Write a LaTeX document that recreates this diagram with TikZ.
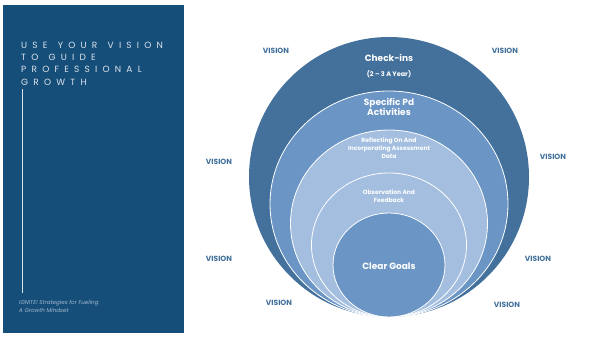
\documentclass[tikz,border=0pt]{standalone}
\usepackage{fontspec}
\setmainfont{Poppins}
\newfontfamily\spacedfont[LetterSpace=58, WordSpace=1.35]{Poppins}
\usetikzlibrary{positioning}

\definecolor{panelblue}{HTML}{164E7A}
\definecolor{ringdark}{HTML}{43719C}
\definecolor{ringmid}{HTML}{6A95C5}
\definecolor{ringlight}{HTML}{A3BEDF}
\definecolor{visionblue}{HTML}{41709B}
\definecolor{titlegray}{HTML}{DCE3EB}
\definecolor{notegray}{HTML}{A2B8CC}

\tikzset{
  ring/.style={draw=white, line width=0.8pt},
  ringtext/.style={
    text=white,
    align=center,
    inner sep=0pt,
    font=\bfseries\fontsize{9}{10}\selectfont},
  smalltext/.style={
    ringtext,
    font=\bfseries\fontsize{6}{8}\selectfont},
  visiontag/.style={
    text=visionblue,
    inner sep=0pt,
    font=\bfseries\fontsize{7.5}{8}\selectfont},
}

\begin{document}
\begin{tikzpicture}[x=1pt, y=-1pt]
  \useasboundingbox (0,0) rectangle (591,337);
  % left title panel
  \fill[panelblue] (3,5) rectangle (184,333);
  \node[anchor=north west, inner sep=0pt, align=left, text=titlegray,
        font=\spacedfont\fontsize{9}{12.2}\selectfont] (title) at (21,42)
    {USE YOUR VISION\\TO GUIDE\\PROFESSIONAL\\GROWTH};
  \draw[titlegray, line width=0.6pt] (22,89) -- (22,293);
  \node[anchor=north west, inner sep=0pt, align=left, text=notegray,
        font=\itshape\fontsize{5.6}{8}\selectfont] (ignite) at (19,300)
    {IGNITE! Strategies for Fueling\\A Growth Mindset};

  % nested rings, all touching at the bottom
  \fill[ringdark] (389,177) ellipse [x radius=140pt, y radius=140pt];
  \filldraw[ring, fill=ringmid] (389,204) ellipse [x radius=119pt, y radius=113pt];
  \filldraw[ring, fill=ringlight] (389,223.5) ellipse [x radius=98.5pt, y radius=93.5pt];
  \filldraw[ring, fill=ringlight] (389,245) ellipse [x radius=77.5pt, y radius=72pt];
  \filldraw[ring, fill=ringmid] (389,265) ellipse [x radius=56pt, y radius=52pt];

  \node[ringtext] (checkins) at (389,58) {Check-ins};
  \node[smalltext, font=\bfseries\fontsize{6.5}{8}\selectfont,
        below=9pt of checkins] (peryear) {(2 -- 3 A Year)};
  \node[ringtext] (specific) at (389,107) {Specific Pd\\Activities};
  \node[smalltext] (reflecting) at (389,148) {Reflecting On And\\Incorporating Assessment\\Data};
  \node[smalltext] (observation) at (389,196) {Observation And\\Feedback};
  \node[ringtext] (goals) at (389,266) {Clear Goals};

  % vision labels round the rings
  \foreach \x/\y [count=\i] in {276/51, 505/51, 219/162, 553/157,
                               219/259, 538/259, 279/303, 507/305}
    \node[visiontag] (vision\i) at (\x,\y) {VISION};
\end{tikzpicture}
\end{document}
